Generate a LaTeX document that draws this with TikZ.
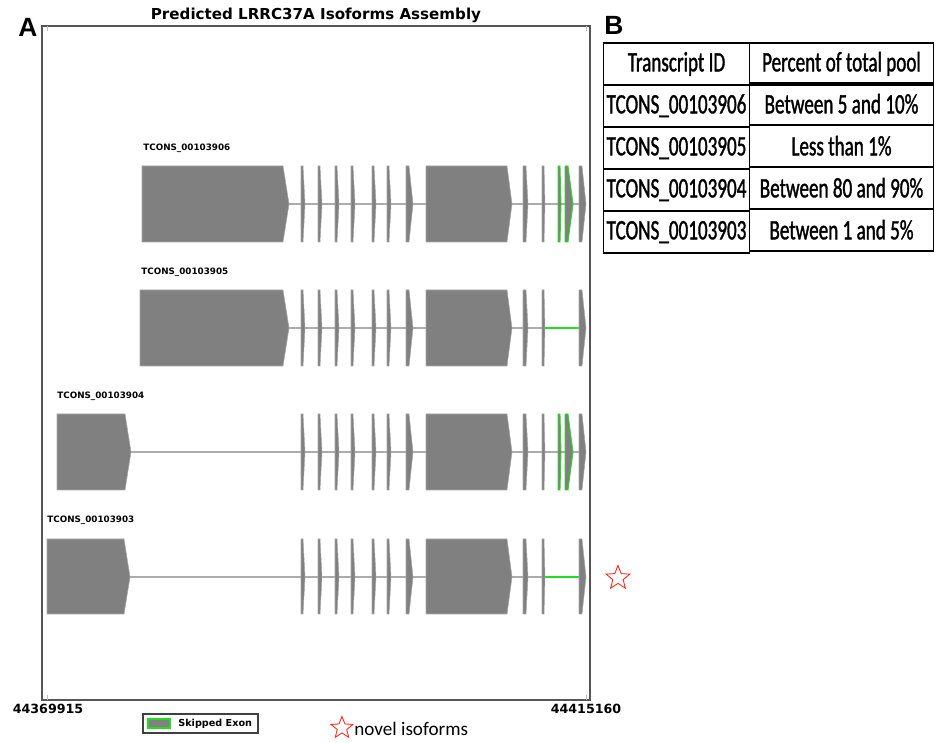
\documentclass[tikz,border=0pt]{standalone}
\usepackage{fontspec}
\newfontfamily\plotfont{DejaVu Sans}
\newfontfamily\tabfont[FakeStretch=0.68,FakeBold=1.2]{Carlito}
\newfontfamily\notefont{Carlito}
\newfontfamily\panelfont{Liberation Sans}
\usetikzlibrary{matrix,shapes.geometric}
\definecolor{exongray}{HTML}{808080}
\definecolor{skipgreen}{HTML}{1EE01E}
\definecolor{framegray}{HTML}{555555}

\begin{document}
\begin{tikzpicture}[x=0.02cm,y=-0.02cm,
exon/.style={fill=exongray,draw=exongray!70!white,line width=.3pt},
skipped/.style={fill=exongray,draw=skipgreen,line width=.5pt},
intron/.style={draw=gray!65,line width=1.1pt},
skipline/.style={draw=skipgreen,line width=1.1pt},
tlabel/.style={anchor=west,inner sep=0pt,font=\plotfont\bfseries\fontsize{5}{6}\selectfont},
ticklabel/.style={inner sep=0pt,font=\plotfont\bfseries\fontsize{7.2}{8}\selectfont},
panel/.style={inner sep=0pt,font=\panelfont\bfseries\fontsize{15}{18}\selectfont},
novel/.style={star,star points=5,star point ratio=2.3,draw=red!85!white,line width=.5pt,minimum size=0.5cm,inner sep=0pt}]
\useasboundingbox (0,0) rectangle (938,743);

\node[panel] (pA) at (28,27) {A};
\node[panel] (pB) at (614,25) {B};
\node[font=\plotfont\bfseries\fontsize{8.6}{10}\selectfont,inner sep=0pt] (title) at (316,15) {Predicted LRRC37A Isoforms Assembly};

\draw[framegray,line width=.9pt] (42,26) rectangle (590,700);
\foreach \x in {47,586} {
  \draw[gray!50,line width=.4pt] (\x,26) -- (\x,31);
  \draw[gray!50,line width=.4pt] (\x,700) -- (\x,695);
}
\node[ticklabel] (start) at (48,709) {44369915};
\node[ticklabel] (stop) at (586,709) {44415160};

\node[tlabel] (t06) at (143,148) {TCONS\_00103906};
\node[tlabel] (t05) at (141,272) {TCONS\_00103905};
\node[tlabel] (t04) at (57,396) {TCONS\_00103904};
\node[tlabel] (t03) at (47,520) {TCONS\_00103903};

\draw[intron] (289,204) -- (579,204);
\draw[intron] (289,328) -- (545,328);
\draw[skipline] (545,328) -- (579,328);
\draw[intron] (131,452) -- (579,452);
\draw[intron] (130,577) -- (545,577);
\draw[skipline] (545,577) -- (579,577);

\fill[exon] (142,166) -- (283,166) -- (289,204) -- (283,242) -- (142,242) -- cycle;
\fill[exon] (140,290) -- (283,290) -- (289,328) -- (283,366) -- (140,366) -- cycle;
\fill[exon] (57,414) -- (125,414) -- (131,452) -- (125,490) -- (57,490) -- cycle;
\fill[exon] (47,539) -- (124,539) -- (130,577) -- (124,614) -- (47,614) -- cycle;

\foreach \yt/\ym/\yb in {166/204/242,290/328/366,414/452/490,539/577/614} {
  \foreach \a/\b/\c in {301/303/305,318/320/322,335/337/339,351/353/355,372/374/376,387/389/391,406/409/413,426/507/512,523/526/528,542/544/545}
    \fill[exon] (\a,\yt) -- (\b,\yt) -- (\c,\ym) -- (\b,\yb) -- (\a,\yb) -- cycle;
  \fill[exon] (579,\yt) -- (582,\yt) -- (586,\ym) -- (582,\yb) -- (579,\yb) -- cycle;
}
\foreach \yt/\ym/\yb in {166/204/242,414/452/490} {
  \filldraw[skipped] (558,\yt) -- (560,\yt) -- (561,\ym) -- (560,\yb) -- (558,\yb) -- cycle;
  \filldraw[skipped] (565,\yt) -- (568,\yt) -- (573,\ym) -- (568,\yb) -- (565,\yb) -- cycle;
}

\node[novel] (star1) at (618,578) {};

\node[draw=black!75,line width=.6pt,minimum width=2.3cm,minimum height=0.38cm,inner sep=0pt] (legend) at (200.5,723.5) {};
\filldraw[skipped,line width=.8pt] (148,719) rectangle (170,728);
\node[anchor=west,inner sep=0pt,font=\plotfont\bfseries\fontsize{5.5}{6}\selectfont] (legtext) at (178,723.5) {Skipped Exon};

\node[novel,minimum size=0.46cm] (star2) at (342,728) {};
\node[anchor=west,inner sep=0pt,font=\notefont\fontsize{10.9}{12}\selectfont] (note) at (354,729) {novel isoforms};

\matrix (tab) [matrix of nodes,
column sep={3.3cm,between origins},
row sep={0.84cm,between origins},
nodes={draw, line width=1pt, minimum height=0.84cm, inner sep=0pt, font=\tabfont\fontsize{16}{18}\selectfont},
column 1/.style={nodes={minimum width=2.92cm}},
column 2/.style={nodes={minimum width=3.68cm}}] at (768.5,148)
{
Transcript ID & Percent of total pool \\
TCONS\_00103906 & Between 5 and 10\% \\
TCONS\_00103905 & Less than 1\% \\
TCONS\_00103904 & Between 80 and 90\% \\
TCONS\_00103903 & Between 1 and 5\% \\
};

\end{tikzpicture}
\end{document}
